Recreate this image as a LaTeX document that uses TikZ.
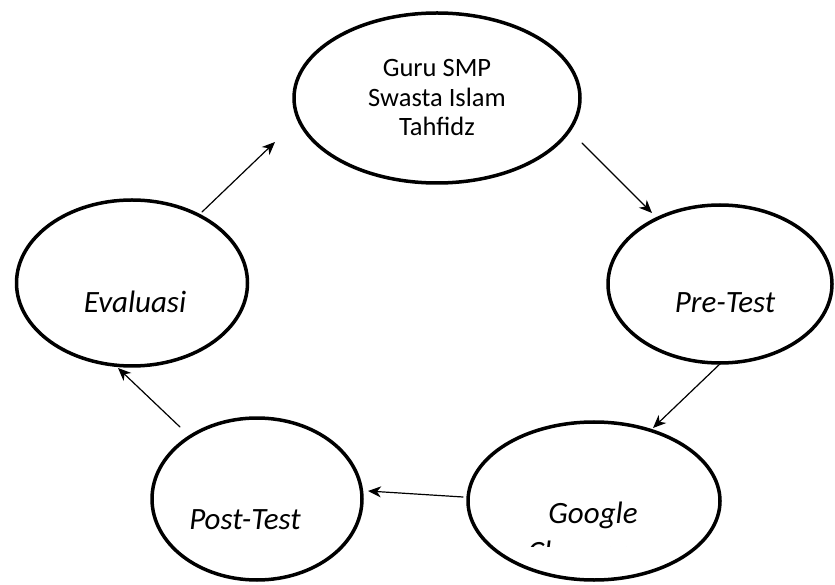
\documentclass[tikz,border=0pt]{standalone}
\usepackage{fontspec}
\setmainfont{Carlito}
\usetikzlibrary{shapes.geometric,arrows.meta}

\begin{document}
\begin{tikzpicture}[x=1pt,y=1pt,line cap=round,line join=round,
  oval/.style={ellipse,draw,line width=3.5pt,inner sep=0pt},
  lbl/.style={font=\fontsize{31}{38}\selectfont\itshape,inner sep=0pt,anchor=base},
  flow/.style={line width=1.2pt,-{Stealth[length=13pt,width=11pt,inset=4pt]}}]
\useasboundingbox (0,0) rectangle (835,584);
% the five stages
\node[oval,minimum width=286pt,minimum height=170pt,align=center,
  font=\fontsize{26.5}{29.5}\selectfont] (guru) at (437,486) {Guru SMP\\Swasta Islam\\Tahfidz};
\node[oval,minimum width=224pt,minimum height=158pt] (pre) at (720,300) {};
\node[oval,minimum width=252pt,minimum height=158pt] (google) at (594,83) {};
\node[oval,minimum width=210pt,minimum height=162pt] (post) at (257,85) {};
\node[oval,minimum width=231pt,minimum height=166pt] (eval) at (132,301) {};
% labels
\node[lbl] (pretxt) at ([shift={(5,-29)}]pre.center) {Pre-Test};
\node[lbl] (evaltxt) at ([shift={(3,-30)}]eval.center) {Evaluasi};
\node[lbl] (posttxt) at ([shift={(-12,-30)}]post.center) {Post-Test};
\node[lbl] (gtxt1) at ([shift={(-1,-22)}]google.center) {Google};
\begin{scope}
\clip (466,38) rectangle (722,164);
\node[lbl] (gtxt2) at ([shift={(-1,-61)}]google.center) {Classroom};
\end{scope}
% cycle arrows
\draw[flow] ([shift={(145,-45)}]guru.center) -- ([shift={(-68,71)}]pre.center);
\draw[flow] ([shift={(2,-78)}]pre.center) -- ([shift={(59,73)}]google.center);
\draw[flow] ([shift={(-131,4)}]google.center) -- ([shift={(111,8)}]post.center);
\draw[flow] ([shift={(-77,72)}]post.center) -- ([shift={(-14,-85)}]eval.center);
\draw[flow] ([shift={(70,71)}]eval.center) -- ([shift={(-162,-44)}]guru.center);
\end{tikzpicture}
\end{document}
